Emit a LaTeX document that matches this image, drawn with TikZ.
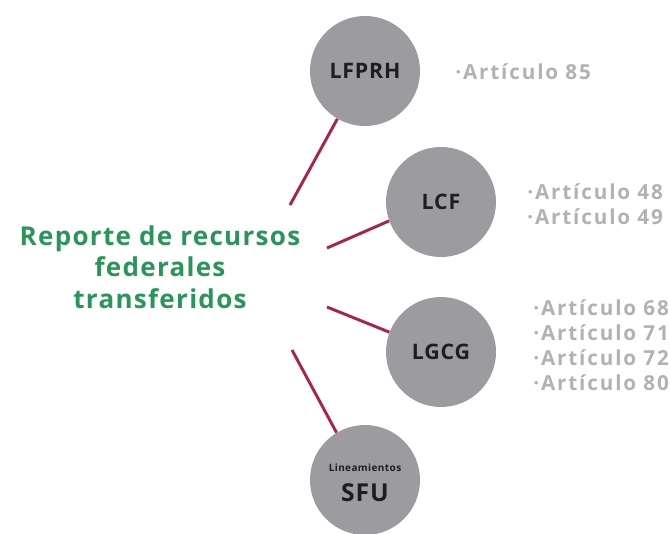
\documentclass[tikz,border=0pt]{standalone}
\usepackage{fontspec}
\setmainfont{Open Sans}
\newfontfamily\artfont[LetterSpace=9]{Open Sans}
\newfontfamily\titlefont[LetterSpace=5]{Open Sans}
\newfontfamily\labfont[LetterSpace=4]{Open Sans}
\definecolor{circgray}{RGB}{156,155,160}
\definecolor{labgreen}{RGB}{40,150,88}
\definecolor{linkred}{RGB}{170,35,80}
\definecolor{artgray}{RGB}{178,178,180}
\definecolor{labdark}{RGB}{30,30,32}
\tikzset{
  lawcircle/.style={circle, fill=circgray, minimum size=82.5pt, inner sep=0pt,
    font=\labfont\fontsize{16}{18}\selectfont\bfseries, text=labdark},
  link/.style={draw=linkred, line width=2.2pt},
  arttext/.style={anchor=west, align=left, text=artgray, inner sep=0pt,
    font=\artfont\fontsize{15.5}{18.75}\selectfont\bfseries},
  title/.style={align=center, text=labgreen, inner sep=0pt,
    font=\titlefont\fontsize{19.5}{23.5}\selectfont\bfseries}
}
\begin{document}
\begin{tikzpicture}[x=0.75pt,y=-0.75pt]
\useasboundingbox (0,0) rectangle (670,534);
\fill[white] (0,0) rectangle (670,534);
% title
\node[title] (rep) at (160,267) {Reporte de recursos\\federales\\transferidos};
% circles
\node[lawcircle] (lfprh) at (365,71) {LFPRH};
\node[lawcircle] (lcf) at (441,202) {LCF};
\node[lawcircle] (lgcg) at (441,352) {LGCG};
\node[lawcircle] (sfu) at (365,480) {};
\node[text=labdark, font=\labfont\fontsize{7.5}{8}\selectfont\bfseries, inner sep=0pt] (lin) at (365,468) {Lineamientos};
\node[text=labdark, font=\labfont\fontsize{18.5}{20}\selectfont\bfseries, inner sep=0pt] (sfut) at (365,493) {SFU};
% article lists
\node[arttext] (a1) at (455,72) {·Artículo 85};
\node[arttext] (a2) at (527,204) {·Artículo 48\\·Artículo 49};
\node[arttext] (a3) at (533,345) {·Artículo 68\\·Artículo 71\\·Artículo 72\\·Artículo 80};
% connectors
\coordinate (s1) at (290,205);
\coordinate (s2) at (327,248);
\coordinate (s3) at (327,307);
\coordinate (s4) at (292,350);
\draw[link] (s1) -- (lfprh.240);
\draw[link] (s2) -- (lcf.200);
\draw[link] (s3) -- (lgcg.159);
\draw[link] (s4) -- (sfu.121);
\end{tikzpicture}
\end{document}
